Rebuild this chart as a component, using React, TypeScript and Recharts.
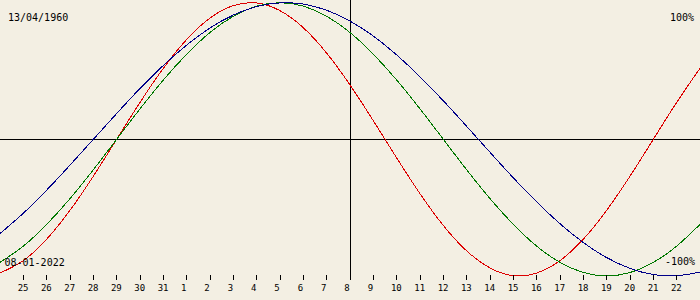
import React from 'react';
import { LineChart, Line, XAxis, YAxis, ReferenceLine } from 'recharts';

// day offsets relative to 08-01-2022 (0 = 8 Jan)
const dayOffsets = [-15, -14, -13, -12, -11, -10, -9, -8, -7, -6, -5, -4, -3, -2, -1, 0, 1, 2, 3, 4, 5, 6, 7, 8, 9, 10, 11, 12, 13, 14, 15];
const dayLabels = ['24', '25', '26', '27', '28', '29', '30', '31', '1', '2', '3', '4', '5', '6', '7', '8', '9', '10', '11', '12', '13', '14', '15', '16', '17', '18', '19', '20', '21', '22', '23'];
const tickOffsets = [-14, -13, -12, -11, -10, -9, -8, -7, -6, -5, -4, -3, -2, -1, 0, 1, 2, 3, 4, 5, 6, 7, 8, 9, 10, 11, 12, 13, 14];

// percent values read per day
const physical = [-97.9, -88.8, -73.1, -52.0, -27.0, 0, 27.0, 52.0, 73.1, 88.8, 97.9, 99.8, 94.2, 81.7, 63.1, 39.8, 13.6, -13.6, -39.8, -63.1, -81.7, -94.2, -99.8, -97.9, -88.8, -73.1, -52.0, -27.0, 0, 27.0, 52.0];
const emotional = [-90.1, -78.2, -62.3, -43.4, -22.3, 0, 22.3, 43.4, 62.3, 78.2, 90.1, 97.5, 100, 97.5, 90.1, 78.2, 62.3, 43.4, 22.3, 0, -22.3, -43.4, -62.3, -78.2, -90.1, -97.5, -100, -97.5, -90.1, -78.2, -62.3];
const intellectual = [-69.0, -54.1, -37.2, -18.9, 0, 18.9, 37.2, 54.1, 69.0, 81.5, 91.0, 97.2, 99.9, 99.0, 94.5, 86.6, 75.6, 61.8, 45.8, 28.2, 9.5, -9.5, -28.2, -45.8, -61.8, -75.6, -86.6, -94.5, -99.0, -99.9, -97.2];

const birthLabel = '13/04/1960';
const dateLabel = '08-01-2022';
const topLabel = '100%';
const bottomLabel = '-100%';

const data = dayOffsets.map((d, i) => ({
  d,
  physical: physical[i],
  emotional: emotional[i],
  intellectual: intellectual[i],
}));

const FONT = '"DejaVu Sans Mono", monospace';

const DayTick = (props: any) => {
  const { x, y, payload } = props;
  const label = dayLabels[payload.value + 15];
  return (
    <g>
      <line x1={x} x2={x} y1={y - 5} y2={y} stroke="#000" strokeWidth={1} shapeRendering="crispEdges" />
      <text x={x - 5.7} y={y + 11} fontFamily={FONT} fontSize={9} fill="#000" textAnchor="start">
        {label}
      </text>
    </g>
  );
};

export default function App() {
  return (
    <div style={{ position: 'absolute', left: 0, top: 0, width: 700, height: 300, background: '#f3efe3', overflow: 'hidden' }}>
      <LineChart width={700} height={300} data={data} margin={{ top: 0, right: 0, bottom: 0, left: 0 }}>
        <XAxis
          dataKey="d"
          type="number"
          domain={[-15, 15]}
          ticks={tickOffsets}
          interval={0}
          height={20}
          axisLine={false}
          tickLine={false}
          tickSize={0}
          tickMargin={0}
          tick={<DayTick />}
        />
        <YAxis hide type="number" domain={[-103, 102]} />
        <ReferenceLine y={0} stroke="#000" strokeWidth={1} shapeRendering="crispEdges" />
        <ReferenceLine x={0} stroke="#000" strokeWidth={1} shapeRendering="crispEdges" />
        <Line type="natural" dataKey="physical" stroke="#dd0000" strokeWidth={1} dot={false} activeDot={false} shapeRendering="crispEdges" isAnimationActive={false} />
        <Line type="natural" dataKey="emotional" stroke="#007800" strokeWidth={1} dot={false} activeDot={false} shapeRendering="crispEdges" isAnimationActive={false} />
        <Line type="natural" dataKey="intellectual" stroke="#000088" strokeWidth={1} dot={false} activeDot={false} shapeRendering="crispEdges" isAnimationActive={false} />
      </LineChart>
      <svg width={700} height={300} style={{ position: 'absolute', left: 0, top: 0, pointerEvents: 'none' }}>
        <text x={8} y={21} fontFamily={FONT} fontSize={10} fill="#000">{birthLabel}</text>
        <text x={694} y={21} fontFamily={FONT} fontSize={10} fill="#000" textAnchor="end">{topLabel}</text>
        <text x={4.5} y={266} fontFamily={FONT} fontSize={10} fill="#000">{dateLabel}</text>
        <text x={695} y={265} fontFamily={FONT} fontSize={10} fill="#000" textAnchor="end">{bottomLabel}</text>
      </svg>
    </div>
  );
}
